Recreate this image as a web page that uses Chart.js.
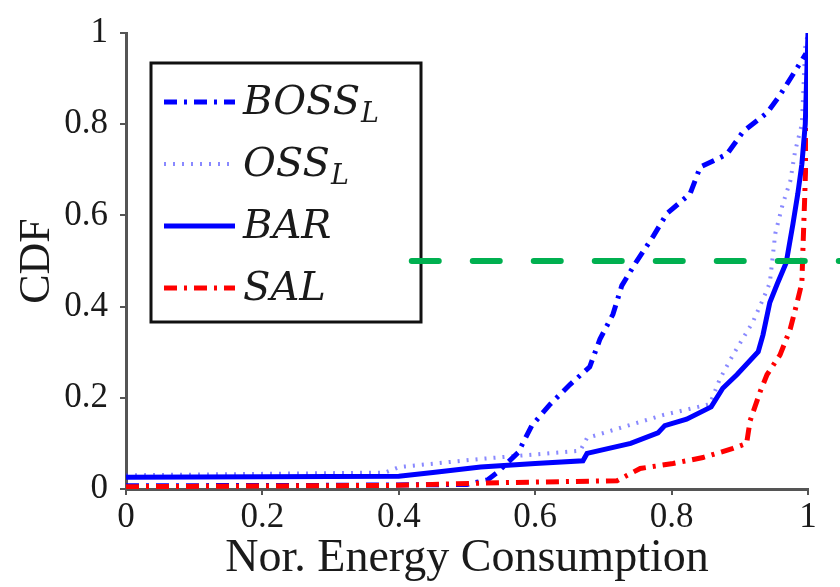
<!DOCTYPE html>
<html>
<head>
<meta charset="utf-8">
<script src="https://cdn.jsdelivr.net/npm/chart.js@4.4.0/dist/chart.umd.min.js"></script>
<style>
    body { margin: 0; background: #fff; }
    #wrap { width: 840px; height: 587px; }
</style>
</head>
<body>
<div id="wrap"><canvas id="cdfChart" width="840" height="587"></canvas></div>
<script>
// tick values on both axes
const xTicks = [0, 0.2, 0.4, 0.6, 0.8, 1];
const yTicks = [0, 0.2, 0.4, 0.6, 0.8, 1];

// CDF curves, [normalized energy, cumulative fraction]
const bossL = [
    [0, 0.007], [0.3, 0.008], [0.5, 0.01], [0.53, 0.02], [0.545, 0.037], [0.575, 0.08],
    [0.595, 0.139], [0.622, 0.186], [0.651, 0.229], [0.68, 0.268], [0.695, 0.329],
    [0.714, 0.383], [0.727, 0.446], [0.749, 0.5], [0.773, 0.554], [0.793, 0.604],
    [0.827, 0.647], [0.842, 0.706], [0.881, 0.734], [0.905, 0.784], [0.94, 0.825],
    [0.959, 0.864], [0.988, 0.933], [0.997, 0.955]
];
const ossL = [
    [0, 0.03], [0.38, 0.036], [0.4, 0.048], [0.52, 0.066], [0.666, 0.084],
    [0.676, 0.112], [0.787, 0.162], [0.856, 0.186], [0.871, 0.242], [0.89, 0.294],
    [0.919, 0.366], [0.934, 0.416], [0.944, 0.452], [0.952, 0.56], [0.963, 0.625],
    [0.974, 0.675], [0.981, 0.74], [0.991, 0.8], [0.996, 0.97], [1, 1]
];
const bar = [
    [0, 0.026], [0.4, 0.028], [0.45, 0.036], [0.52, 0.048], [0.6, 0.056],
    [0.67, 0.062], [0.676, 0.078], [0.74, 0.1], [0.78, 0.123], [0.79, 0.139],
    [0.822, 0.153], [0.858, 0.18], [0.875, 0.221], [0.896, 0.251], [0.927, 0.301],
    [0.934, 0.338], [0.944, 0.409], [0.955, 0.45], [0.968, 0.496], [0.978, 0.582],
    [0.985, 0.647], [0.991, 0.712], [0.996, 0.8], [1, 1]
];
const sal = [
    [0, 0.005], [0.4, 0.008], [0.55, 0.014], [0.72, 0.018], [0.735, 0.03],
    [0.754, 0.045], [0.802, 0.056], [0.846, 0.069], [0.89, 0.089], [0.91, 0.1],
    [0.915, 0.149], [0.93, 0.214], [0.94, 0.251], [0.959, 0.294], [0.974, 0.351],
    [0.984, 0.409], [0.991, 0.452], [0.993, 0.545], [0.995, 0.632], [0.997, 0.727],
    [0.999, 0.8]
];
// median marker
const median = [[0.419, 0.5], [1.05, 0.5]];

const legendNames = ['BOSS', 'OSS', 'BAR', 'SAL'];
const legendSubs = ['L', 'L', '', ''];

const toXY = pts => pts.map(p => ({ x: p[0], y: p[1] }));

// boxed legend with subscripted labels, drawn from the dataset styles
const boxLegend = {
    id: 'boxLegend',
    beforeDatasetsDraw(chart, args, opts) {
        const ctx = chart.ctx;
        ctx.save();
        ctx.fillStyle = '#fff';
        ctx.fillRect(opts.x, opts.y, opts.w, opts.h);
        ctx.lineWidth = 3;
        ctx.strokeStyle = '#111';
        ctx.strokeRect(opts.x, opts.y, opts.w, opts.h);

        opts.entries.forEach((dsIndex, i) => {
            const ds = chart.data.datasets[dsIndex];
            const cy = opts.y + opts.firstRow + i * opts.rowGap;
            ctx.beginPath();
            ctx.setLineDash(ds.borderDash || []);
            ctx.lineWidth = ds.borderWidth;
            ctx.strokeStyle = ds.borderColor;
            ctx.moveTo(opts.x + 13, cy);
            ctx.lineTo(opts.x + 84, cy);
            ctx.stroke();
            ctx.setLineDash([]);

            ctx.fillStyle = '#1a1a1a';
            ctx.textBaseline = 'alphabetic';
            ctx.font = 'italic 40px "DejaVu Serif"';
            const tx = opts.x + 92;
            const by = cy + 12;
            ctx.fillText(legendNames[i], tx, by);
            if (legendSubs[i]) {
                const w = ctx.measureText(legendNames[i]).width;
                ctx.font = 'italic 27px "DejaVu Serif"';
                ctx.fillText(legendSubs[i], tx + w + 1, by + 8);
            }
        });
        ctx.restore();
    }
};

const serif = 'Liberation Serif';

new Chart(document.getElementById('cdfChart').getContext('2d'), {
    type: 'line',
    data: {
        datasets: [
            {
                label: 'median',
                data: toXY(median),
                borderColor: '#00b050',
                borderWidth: 6,
                borderDash: [27, 34],
                borderCapStyle: 'round',
                clip: false
            },
            {
                label: 'BAR',
                data: toXY(bar),
                borderColor: '#0000ff',
                borderWidth: 5
            },
            {
                label: 'SAL',
                data: toXY(sal),
                borderColor: '#ff0000',
                borderWidth: 5,
                borderDash: [13, 7, 3, 7]
            },
            {
                label: 'BOSS_L',
                data: toXY(bossL),
                borderColor: '#0000ff',
                borderWidth: 5,
                borderDash: [13, 7, 3, 7]
            },
            {
                label: 'OSS_L',
                data: toXY(ossL),
                borderColor: 'rgba(40, 40, 255, 0.55)',
                borderWidth: 4,
                borderDash: [2, 7]
            }
        ]
    },
    options: {
        responsive: false,
        animation: false,
        elements: {
            point: { radius: 0 },
            line: { tension: 0 }
        },
        layout: { padding: { left: 0, top: 27, right: 32, bottom: 0 } },
        plugins: {
            legend: { display: false },
            tooltip: { enabled: false },
            boxLegend: {
                x: 151, y: 63, w: 270, h: 259,
                firstRow: 39, rowGap: 62,
                entries: [3, 4, 1, 2]
            }
        },
        scales: {
            x: {
                type: 'linear',
                min: 0,
                max: 1,
                afterBuildTicks: scale => { scale.ticks = xTicks.map(v => ({ value: v })); },
                afterFit: scale => { scale.height = 98; },
                ticks: {
                    color: '#1a1a1a',
                    font: { family: serif, size: 35 },
                    padding: 2,
                    maxRotation: 0,
                    callback: v => String(v)
                },
                grid: { drawOnChartArea: false, tickLength: 6, color: '#555', lineWidth: 2 },
                border: { display: true, color: '#555', width: 3 },
                title: {
                    display: true,
                    text: 'Nor. Energy Consumption',
                    color: '#1a1a1a',
                    font: { family: serif, size: 46 },
                    padding: { top: 0, bottom: 0 }
                }
            },
            y: {
                type: 'linear',
                min: 0,
                max: 1,
                afterBuildTicks: scale => { scale.ticks = yTicks.map(v => ({ value: v })); },
                afterFit: scale => { scale.width = 126; },
                ticks: {
                    color: '#1a1a1a',
                    font: { family: serif, size: 35 },
                    padding: 12,
                    callback: v => String(v)
                },
                grid: { drawOnChartArea: false, tickLength: 6, color: '#555', lineWidth: 2 },
                border: { display: true, color: '#555', width: 3 },
                title: {
                    display: true,
                    text: 'CDF',
                    color: '#1a1a1a',
                    font: { family: serif, size: 44 },
                    padding: { top: 11, bottom: 0 }
                }
            }
        }
    },
    plugins: [boxLegend]
});
</script>
</body>
</html>
